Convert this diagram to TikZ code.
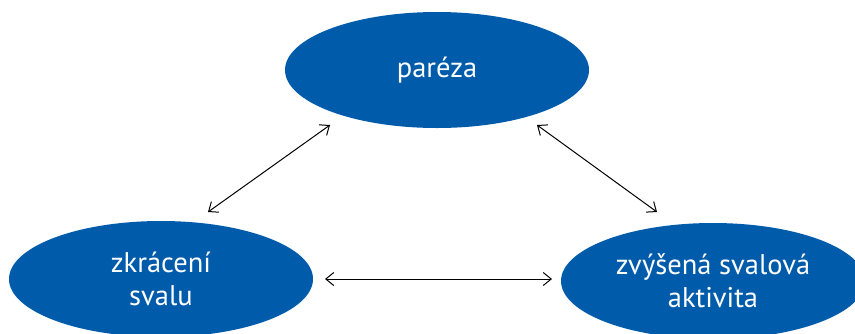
\documentclass[tikz,border=0pt]{standalone}
\usepackage{fontspec}
\setmainfont{PT Sans}
\usetikzlibrary{shapes.geometric,arrows.meta}
\definecolor{nodeblue}{RGB}{0,91,170}
\begin{document}
\begin{tikzpicture}[x=1pt,y=-1pt,
  blob/.style={ellipse,fill=nodeblue,draw=none,minimum width=304pt,minimum height=116pt,
    inner sep=0pt,text=white,align=center,font=\fontsize{28.5}{33}\selectfont},
  link/.style={draw=black,line width=1pt,{Straight Barb[length=8pt,width=13pt]}-{Straight Barb[length=8pt,width=13pt]}}]
\useasboundingbox (0,0) rectangle (855,333);
\clip (0,0) rectangle (855,333);
\node[blob] (top) at (437,70) {paréza};
\node[blob] (left) at (161,279) {zkrácení\\svalu};
\node[blob] (right) at (713,281) {zvýšená svalová\\aktivita};
\coordinate (a1) at (208,212);
\coordinate (a2) at (330,125);
\coordinate (b1) at (537,125);
\coordinate (b2) at (657,212);
\coordinate (c1) at (325,279);
\coordinate (c2) at (552,279);
\draw[link] (a1) -- (a2);
\draw[link] (b1) -- (b2);
\draw[link] (c1) -- (c2);
\end{tikzpicture}
\end{document}
